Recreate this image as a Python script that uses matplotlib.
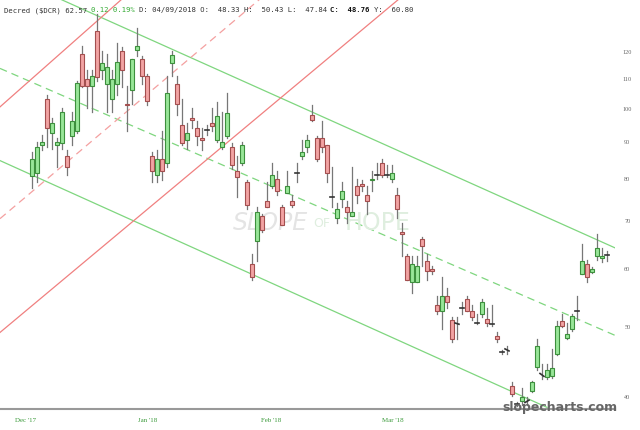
import numpy as np
import matplotlib
matplotlib.use('Agg')
import matplotlib.pyplot as plt
from matplotlib.patches import Rectangle

# daily candles, Dec '17 .. Apr 9 '18 (open, high, low, close)
opens = [80.7, 81.5, 89, 103, 92.5, 89, 89.5, 86, 91.5, 93, 119, 110, 107.5, 128, 113, 108, 103, 108, 120, 101.5,
         106, 120.5, 117, 111, 86, 81, 85, 84, 115.5, 108, 95, 90.5, 97, 94, 91, 93.5, 95.5, 90.5, 88.5, 91.5,
         88.5, 82, 84, 79, 61, 65.5, 71, 74.5, 78, 80, 73, 76.5, 74.5, 81.5, 86, 88.5, 98, 91, 91, 89,
         75.5, 70.5, 75, 73, 71, 78, 78.5, 76, 79.5, 81, 84, 81, 80, 76, 67.5, 62.5, 57.5, 57.5, 66, 61.5,
         60, 53.5, 52.5, 55, 51, 50.5, 53, 54.5, 52.5, 50.5, 52, 51.2, 50.3, 48.5, 46, 46.5, 41.3, 39, 39.4, 39.2,
         40.7, 43.9, 43, 42.5, 42.6, 45.8, 50.8, 48.1, 49.5, 52.5, 59.1, 61, 59.4, 62.6, 62.1, 62.8]
highs = [87, 90, 92, 104.5, 97, 91, 100, 87.5, 99, 109, 122, 113, 113, 135, 120, 119, 113, 123, 121.5, 107.5,
         117, 129, 118, 111.5, 87, 87.5, 93, 111, 120, 111, 103, 95.5, 100, 96, 94, 95, 100, 102, 99, 105,
         89.5, 86, 90, 79.5, 63, 73, 71.5, 79, 84, 82, 73.5, 82, 76, 84, 90.5, 92, 101, 91.5, 96, 89,
         83, 74, 79, 74.5, 83, 80, 79.5, 78, 82, 84, 85, 83.5, 83.5, 77.5, 69.5, 63, 62.5, 62.5, 66.5, 63,
         60.5, 55, 58.5, 56.5, 51.5, 51.5, 54, 55, 53.5, 52, 54.5, 53, 53.5, 49, 46.3, 47, 41.8, 39.3, 41, 39.9,
         42, 48, 44.3, 44.3, 46.5, 50.8, 52, 50.5, 52, 55, 65, 61.8, 60.3, 67, 64.2, 63.5]
lows = [77.5, 79, 87.5, 88.5, 88, 83, 88, 81, 89, 92.5, 107, 100, 99, 109, 110, 99, 99, 104.5, 107, 93,
        101.5, 118, 108, 101, 79, 79, 79.5, 83, 111, 98, 89, 88, 94, 89, 87.5, 92, 93, 90, 88, 91,
        82.5, 75.5, 83.5, 72.5, 58, 61.5, 67.5, 73, 77.5, 76, 69, 76.5, 73, 79, 85, 87, 96, 84.5, 87, 79,
        73, 69.5, 73, 69.5, 71, 74, 77, 71.5, 77, 80, 80.5, 80.5, 79, 70.5, 62.5, 58, 55.5, 57.5, 60.5, 58,
        59, 52, 49.5, 53, 47.5, 48, 52, 52.5, 51, 50.3, 51.5, 50, 50, 47.5, 45.7, 45.8, 40, 38.8, 38.9, 38.9,
        40.6, 43.5, 42.2, 42.2, 42.4, 45.6, 49.8, 48, 49.3, 51, 59, 57.5, 59.3, 61.8, 61.4, 61.6]
closes = [85, 88.5, 90, 94, 95.5, 90, 99, 83, 96, 108.5, 107.5, 107.5, 111, 110.5, 115.5, 114, 110, 116, 113, 101,
          117, 122, 111, 102.5, 82, 85, 82, 105, 118.5, 101.5, 89.5, 92.5, 96.5, 91.5, 90.5, 93.5, 94.5, 97.5, 90, 98.5,
          83.5, 80.5, 89, 73.5, 58.5, 72, 68, 73, 81, 77, 69, 78, 73.5, 81.5, 87, 90.5, 96.5, 85, 88.5, 81.5,
          75.5, 72.5, 77, 72, 72, 76, 78, 74.5, 80, 81, 81, 81, 81.5, 72.5, 67, 58, 61, 60.5, 64.5, 59.5,
          59.5, 52.5, 55, 54, 48, 50.3, 53, 52.5, 51.5, 50.5, 54, 50.5, 50.3, 48, 46, 46.2, 40.3, 39, 39.9, 39.5,
          41.8, 47, 42.6, 43.5, 43.8, 50, 50, 48.7, 51.6, 52.5, 61.5, 58.4, 60, 64.2, 62.6, 62.8]

month_labels = ["Dec '17", "Jan '18", "Feb '18", "Mar '18"]
month_pos = [-1.2, 23.2, 47.8, 72.2]
price_ticks = [40, 50, 60, 70, 80, 90, 100, 110, 120]

# channel lines: (x0, p0, x1, p1) in candle index / price
green_solid = [(5.6, 141.7, 121.6, 61.9), (-6.4, 84.7, 103.0, 38.6)]
green_dash = [(-6.4, 113.6, 121.6, 46.9)]
red_solid = [(-6.4, 100.5, 18.0, 141.7), (-6.4, 49.0, 73.4, 141.7)]
red_dash = [(-6.4, 70.4, 45.6, 141.7)]

# header segments: (text, colour, weight), laid out one after another
header = [('Decred ($DCR) 62.57 ', '#333333', 'normal'),
          ('0.12 0.19% ', '#33aa33', 'normal'),
          ('D: 04/09/2018 O:  48.33 H:  50.43 L:  47.84 ', '#333333', 'normal'),
          ('C:  48.76 ', '#111111', 'bold'),
          ('Y:  60.80', '#333333', 'normal')]

fig = plt.figure(figsize=(6.4, 4.31), dpi=100)
ax = fig.add_axes([0, 21 / 431, 615 / 640, 410 / 431])
ax.set_yscale('log')
ax.set_xlim(-6.4, 116.6)
ax.set_ylim(38.4, 141.7)

for x0, p0, x1, p1 in green_solid:
    ax.plot([x0, x1], [p0, p1], color='#7fd67f', lw=0.9, zorder=1)
for x0, p0, x1, p1 in green_dash:
    ax.plot([x0, x1], [p0, p1], color='#7fd67f', lw=0.9, ls=(0, (6, 4)), zorder=1)
for x0, p0, x1, p1 in red_solid:
    ax.plot([x0, x1], [p0, p1], color='#f08080', lw=0.9, zorder=1)
for x0, p0, x1, p1 in red_dash:
    ax.plot([x0, x1], [p0, p1], color='#f4a0a0', lw=0.9, ls=(0, (6, 4)), zorder=1)

w = 0.8
for i, (o, h, l, c) in enumerate(zip(opens, highs, lows, closes)):
    ax.plot([i, i], [l, h], color='#777777', lw=0.9, zorder=2)
    if abs(c - o) < 0.4:
        ax.plot([i - w / 2, i + w / 2], [o, c], color='#333333', lw=1.2, zorder=3)
        continue
    up = c > o
    fc = '#98e698' if up else '#f2a3a3'
    ec = '#3d8f3d' if up else '#a34f4f'
    ax.add_patch(Rectangle((i - w / 2, min(o, c)), w, abs(c - o), facecolor=fc,
                           edgecolor=ec, lw=0.8, zorder=3))

ax.set_xticks(month_pos)
ax.set_xticklabels(month_labels, fontsize=5, color='#3a9a3a', family='Liberation Serif')
ax.set_yticks([])
ax.minorticks_off()
ax.tick_params(axis='x', length=0, pad=6)
for s in ['top', 'left', 'right']:
    ax.spines[s].set_visible(False)
ax.spines['bottom'].set_color('#999999')
ax.spines['bottom'].set_linewidth(1.5)
for p in price_ticks:
    ax.text(1.02, np.log(p / 38.4) / np.log(141.7 / 38.4), str(p), transform=ax.transAxes,
            fontsize=4.5, color='#666666', ha='center', va='center', family='Liberation Serif')

ax.text(0.5, 0.455, 'SLOPE', transform=ax.transAxes, fontsize=17, color='#e4e4e4',
        style='italic', ha='right', va='center', zorder=1.5)
ax.text(0.51, 0.455, 'OF', transform=ax.transAxes, fontsize=9, color='#dfeedf',
        ha='left', va='center', zorder=1.5)
ax.text(0.56, 0.455, 'HOPE', transform=ax.transAxes, fontsize=17, color='#dfeedf',
        ha='left', va='center', zorder=1.5)
fig.text(0.875, 0.055, 'slopecharts.com', fontsize=9, color='#666666', weight='bold',
         ha='center', va='center')

fs = 5.2
charw = fs * 0.602 * 100 / 72  # px per monospace char
pos = 4
for txt, col, wt in header:
    fig.text(pos / 640, 0.983, txt, fontsize=fs, family='DejaVu Sans Mono', color=col,
             weight=wt, va='top')
    pos += len(txt) * charw

fig.savefig('out.png', dpi=100)
